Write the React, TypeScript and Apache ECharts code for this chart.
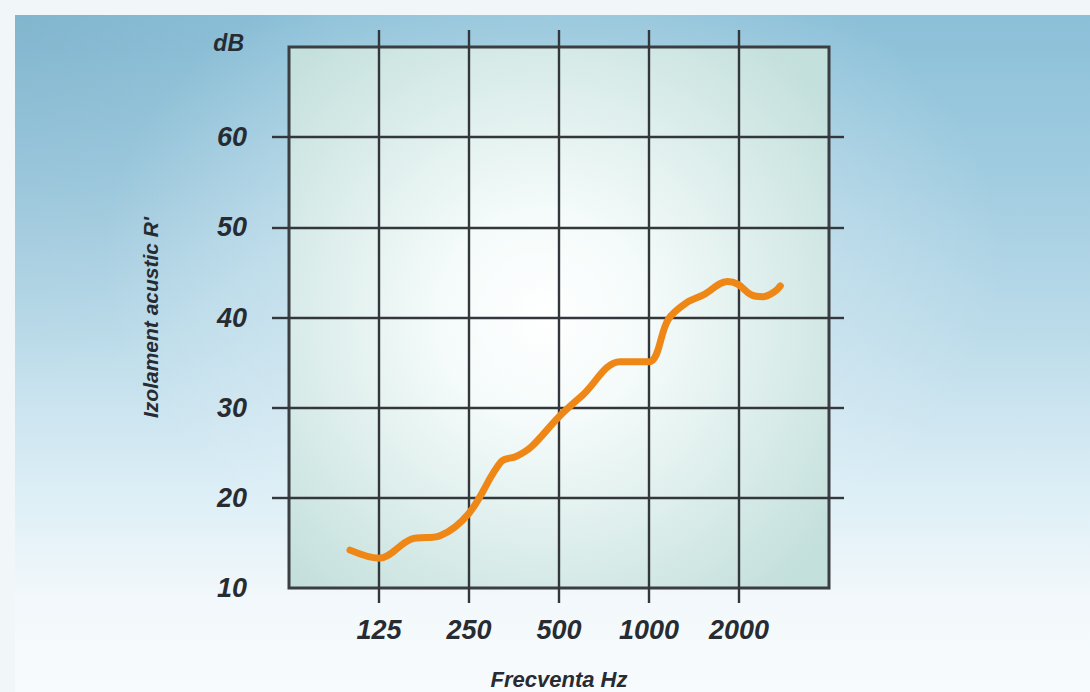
import React, { useEffect, useRef } from "react";
import * as echarts from "echarts";

// ---- data ----
const FREQUENCIES_HZ = [100, 125, 160, 200, 250, 320, 360, 405, 500, 600, 800, 1000, 1160, 1330, 1520, 1830, 1980, 2200, 2400, 2640, 2750];
const INSULATION_DB = [14.2, 13.3, 15.4, 15.8, 18.3, 24.0, 24.6, 25.7, 29.0, 31.4, 35.1, 35.1, 39.8, 41.6, 42.5, 44.0, 43.7, 42.5, 42.3, 42.9, 43.5];
const X_TICK_FREQS = [125, 250, 500, 1000, 2000];
const X_TICK_LABELS = ["125", "250", "500", "1000", "2000"];
const X_MIN_HZ = 62.5;
const X_MAX_HZ = 4000;
const Y_LABEL_VALUES = [10, 20, 30, 40, 50, 60];
const Y_LINE_VALUES = [20, 30, 40, 50, 60];
const Y_MIN = 10;
const Y_MAX = 70;
const X_AXIS_NAME = "Frecventa Hz";
const Y_AXIS_NAME = "Izolament acustic R'";
const Y_UNIT = "dB";

const REF_HZ = 125;
const octave = (f: number) => Math.log2(f / REF_HZ);

const FONT = "'Liberation Sans', Arial, sans-serif";
const INK = "#272b32";
const LINE = "#33373b";

export default function App() {
  const ref = useRef<HTMLDivElement>(null);

  useEffect(() => {
    if (!ref.current) return;
    const chart = echarts.init(ref.current, undefined, { renderer: "svg" });
    const tickOctaves = X_TICK_FREQS.map(octave);
    const labelText = (v: number) => {
      const i = tickOctaves.findIndex((t) => Math.abs(t - v) < 1e-6);
      return i >= 0 ? X_TICK_LABELS[i] : "";
    };
    const textStyle = {
      fontFamily: FONT,
      fontWeight: "bold" as const,
      fontStyle: "italic" as const,
      color: INK,
    };
    const hiddenLine = { show: false, onZero: false };

    chart.setOption({
      animation: false,
      grid: {
        left: 289,
        right: 261,
        top: 47,
        bottom: 104,
        show: true,
        borderColor: "#3a3d41",
        borderWidth: 3,
        outerBoundsMode: "none",
        backgroundColor: new echarts.graphic.RadialGradient(0.47, 0.5, 0.66, [
          { offset: 0, color: "#ffffff" },
          { offset: 0.3, color: "#f4fbfa" },
          { offset: 1, color: "#c4e0dc" },
        ]),
      },
      xAxis: [
        {
          type: "value",
          position: "bottom",
          min: octave(X_MIN_HZ),
          max: octave(X_MAX_HZ),
          interval: 1,
          axisLine: hiddenLine,
          axisTick: {
            show: true,
            customValues: tickOctaves,
            length: 15,
            lineStyle: { color: LINE, width: 2.4 },
          },
          axisLabel: {
            show: true,
            customValues: tickOctaves,
            formatter: (v: number) => labelText(v),
            margin: 28,
            fontSize: 27,
            ...textStyle,
          },
          splitLine: { show: true, lineStyle: { color: LINE, width: 2.4 } },
          name: X_AXIS_NAME,
          nameLocation: "middle",
          nameGap: 80,
          nameTextStyle: { fontSize: 22, ...textStyle },
        },
        {
          type: "value",
          position: "top",
          min: octave(X_MIN_HZ),
          max: octave(X_MAX_HZ),
          interval: 1,
          axisLine: hiddenLine,
          axisTick: {
            show: true,
            customValues: tickOctaves,
            length: 17,
            lineStyle: { color: LINE, width: 2.4 },
          },
          axisLabel: { show: false },
          splitLine: { show: false },
        },
      ],
      yAxis: [
        {
          type: "value",
          position: "left",
          min: Y_MIN,
          max: Y_MAX,
          interval: 10,
          axisLine: hiddenLine,
          axisTick: {
            show: true,
            customValues: Y_LINE_VALUES,
            length: 17,
            lineStyle: { color: LINE, width: 2.4 },
          },
          axisLabel: {
            show: true,
            customValues: Y_LABEL_VALUES,
            formatter: (v: number) => String(v),
            margin: 42,
            fontSize: 27,
            ...textStyle,
          },
          splitLine: { show: true, lineStyle: { color: LINE, width: 2.4 } },
          name: Y_AXIS_NAME,
          nameLocation: "middle",
          nameGap: 128,
          nameRotate: 90,
          nameTextStyle: { fontSize: 21, ...textStyle },
        },
        {
          type: "value",
          position: "right",
          min: Y_MIN,
          max: Y_MAX,
          interval: 10,
          axisLine: hiddenLine,
          axisTick: {
            show: true,
            customValues: Y_LINE_VALUES,
            length: 15,
            lineStyle: { color: LINE, width: 2.4 },
          },
          axisLabel: { show: false },
          splitLine: { show: false },
        },
        {
          type: "value",
          position: "left",
          min: Y_MIN,
          max: Y_MAX,
          interval: 10,
          axisLine: hiddenLine,
          axisTick: { show: false },
          axisLabel: { show: false },
          splitLine: { show: false },
          name: Y_UNIT,
          nameLocation: "end",
          nameGap: 4,
          nameTextStyle: {
            fontSize: 23,
            ...textStyle,
            align: "right",
            verticalAlign: "middle",
            padding: [0, 45, 0, 0],
          },
        },
      ],
      series: [
        {
          type: "line",
          xAxisIndex: 0,
          yAxisIndex: 0,
          data: FREQUENCIES_HZ.map((f, i) => [octave(f), INSULATION_DB[i]]),
          smooth: 0.35,
          symbol: "none",
          lineStyle: { color: "#ef8716", width: 7, cap: "round", join: "round" },
          z: 5,
        },
      ],
    });
    return () => chart.dispose();
  }, []);

  return (
    <div
      style={{
        position: "absolute",
        left: 0,
        top: 0,
        width: 1090,
        height: 692,
        overflow: "hidden",
        background: "#f1f7f9",
      }}
    >
      <div
        style={{
          position: "absolute",
          left: 15,
          top: 15,
          right: 0,
          bottom: 0,
          background:
            "radial-gradient(ellipse 42% 48% at 50% 36%, rgba(255,255,255,0.55), rgba(255,255,255,0) 100%), " +
            "radial-gradient(ellipse 30% 55% at 0% 0%, rgba(40,90,120,0.10), rgba(40,90,120,0) 100%), " +
            "linear-gradient(180deg, #8bc0d8 0%, #a2cde1 25%, #bddcea 48%, #dceef6 70%, #f2f8fb 86%, #f8fbfd 100%)",
        }}
      />
      <div ref={ref} style={{ position: "absolute", left: 0, top: 0, width: 1090, height: 692 }} />
    </div>
  );
}
